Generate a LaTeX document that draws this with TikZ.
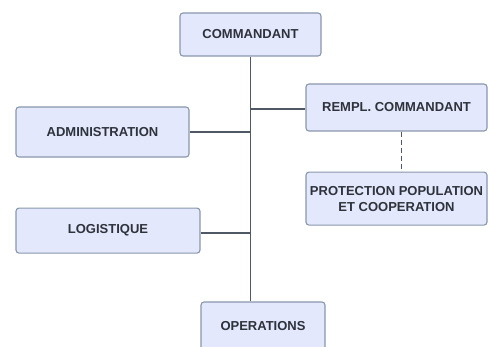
\documentclass[tikz,border=0pt]{standalone}
\usepackage{fontspec}
\setsansfont{Liberation Sans}
\usetikzlibrary{positioning}
\definecolor{BoxFill}{HTML}{E3E8FC}
\definecolor{BoxEdge}{HTML}{8A97AB}
\definecolor{Wire}{HTML}{505866}
\definecolor{Label}{HTML}{2E323B}
\tikzset{
  unit/.style={
    rounded corners=3pt, draw=BoxEdge, line width=1.1pt, fill=BoxFill,
    text=Label, align=center, inner sep=2pt,
    font=\sffamily\bfseries\fontsize{13}{16}\selectfont
  },
  link/.style={draw=Wire, line width=1.4pt},
  dashlink/.style={draw=Wire, line width=1.8pt, dash pattern=on 5pt off 3pt}
}
\begin{document}
\begin{tikzpicture}[x=1pt,y=-1pt]
    \clip (0,0) rectangle (488,347);
    \node[unit,minimum width=141pt,minimum height=43pt] (cmd) at (250.5,34.5) {COMMANDANT};
    \node[unit,minimum width=173pt,minimum height=50pt] (admin) at (102.5,132) {ADMINISTRATION};
    \node[unit,minimum width=184pt,minimum height=45pt,below=50pt of admin.south west,anchor=north west] (logi) {LOGISTIQUE};
    \node[unit,minimum width=181pt,minimum height=47pt] (rempl) at (396.5,107.5) {REMPL. COMMANDANT};
    \node[unit,minimum width=181pt,minimum height=53pt,below=40pt of rempl] (protect) {PROTECTION POPULATION\\ET COOPERATION};
    \node[unit,minimum width=124pt,minimum height=48pt] (ops) at (263,326) {OPERATIONS};
    \draw[link] (cmd.south)--(cmd.south |- ops.north);
    \draw[link] (admin.east)--(admin.east -| cmd.south);
    \draw[link] ([yshift=-2.5pt]logi.east)--([yshift=-2.5pt]logi.east -| cmd.south);
    \draw[link] ([yshift=-1.5pt]rempl.west)--([yshift=-1.5pt]rempl.west -| cmd.south);
    \draw[dashlink] ([xshift=5pt]rempl.south)--([xshift=5pt]protect.north);
  \end{tikzpicture}
\end{document}
